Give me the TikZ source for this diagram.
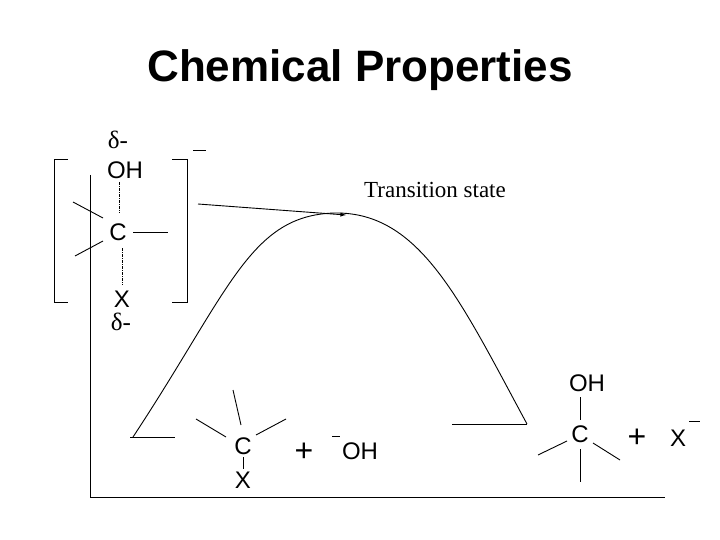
\documentclass[tikz,border=0pt]{standalone}
\usepackage{fontspec}
\setmainfont{Liberation Sans}
\newfontfamily\serif{Liberation Serif}
\begin{document}
\begin{tikzpicture}[x=1pt,y=-1pt,line width=0.9pt,
 lab/.style={inner sep=0pt,font=\fontsize{24}{24}\selectfont},
 dl/.style={inner sep=0pt,font=\serif\fontsize{25}{25}\selectfont},
 pl/.style={inner sep=0pt,font=\fontsize{32}{32}\selectfont},
 dd/.style={line width=0.6pt,dash pattern=on 3pt off 1pt on 1pt off 1pt}]
\useasboundingbox (0,0) rectangle (720,540);
\node[font=\bfseries\fontsize{44}{48}\selectfont] (title) at (360,70) {Chemical Properties};
% axes
\coordinate (o) at (90,497);
\coordinate (ytop) at (90,175);
\coordinate (xend) at (665,497);
\draw (ytop) -- (o) -- (xend);
% curve
\coordinate (l1) at (130,437); \coordinate (l2) at (175,437);
\coordinate (r1) at (452,424); \coordinate (r2) at (527,424);
\coordinate (peak) at (335,213);
\draw (l1) -- (l2);
\draw (r1) -- (r2);
\draw (133,437) .. controls (230,290) and (250,215) .. (peak) .. controls (420,212) and (460,300) .. (r2);
\node[font=\serif\fontsize{23}{24}\selectfont] (ts) at (435,190) {Transition state};
\coordinate (as) at (198,204);
\draw[-latex] (as) -- (346,215);
% transition complex
\draw (68,159) -- (54,159) -- (54,302) -- (68,302);
\draw (172,159) -- (187,159) -- (187,302) -- (172,302);
\draw (193,150) -- (206,150);
\node[dl] (d1) at (118,140) {δ-};
\node[dl] (d2) at (121,322) {δ-};
\node[lab] (oh1) at (125,170) {OH};
\node[lab] (c1) at (118,232) {C};
\node[lab] (x1) at (122,299) {X};
\draw[dd] (119,182) -- (119,213);
\draw[dd] (122,248) -- (122,285);
\draw (73,202) -- (103,218);
\draw (75,256) -- (103,241);
\draw (133,232) -- (168,232);
% reactants
\node[lab] (c2) at (243,446) {C};
\node[lab] (x2) at (243,480) {X};
\draw (233,390) -- (241,425);
\draw (196,419) -- (226,437);
\draw (256,435) -- (286,419);
\draw (243,457) -- (243,469);
\node[pl] (p1) at (304,452) {+};
\node[lab] (oh2) at (360,451) {OH};
\draw (332,436) -- (340,436);
% products
\node[lab] (oh3) at (587,383) {OH};
\node[lab] (c3) at (580,434) {C};
\draw (580,397) -- (580,420);
\draw (538,455) -- (567,441);
\draw (593,443) -- (620,460);
\draw (580,449) -- (580,482);
\node[pl] (p2) at (637,438) {+};
\node[lab] (x3) at (678,438) {X};
\draw (689,421) -- (700,421);
\end{tikzpicture}
\end{document}
